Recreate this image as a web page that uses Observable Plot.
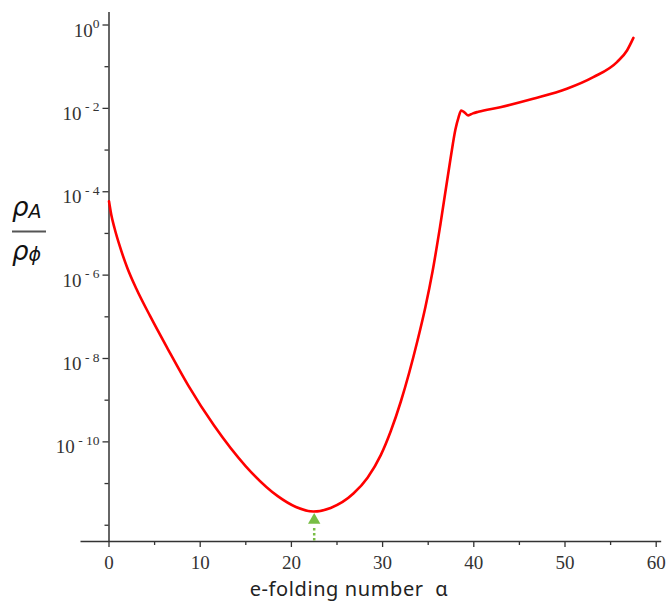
<!DOCTYPE html>
<html>
<head>
<meta charset="utf-8">
<script src="https://cdn.jsdelivr.net/npm/d3@7"></script>
<script src="https://cdn.jsdelivr.net/npm/@observablehq/plot@0.6"></script>
<style>
  html, body { margin: 0; padding: 0; background: white; }
  #chart svg { display: block; }
</style>
</head>
<body>
<div id="chart"></div>
<script>
// e-folding number (x) and energy-density ratio rho_A / rho_phi (y)
const alpha = [0.0, 0.25, 0.6, 1.2, 2.0, 3.0, 4.5, 6.5, 8.7, 11.5, 15.0, 18.5, 20.5, 22.4, 24.3, 26.8, 28.35, 29.8, 30.9, 32.0, 33.83, 34.7, 35.47, 36.35, 37.45, 37.99, 38.32, 38.62, 39.0, 39.4, 39.9, 40.5, 42.9, 46.5, 50.2, 53.1, 55.7, 56.8, 57.5];
const ratio = [5.9e-5, 2.8e-5, 1.35e-5, 4.8e-6, 1.51e-6, 4.7e-7, 1.05e-7, 1.62e-8, 2.24e-9, 2.5e-10, 2.6e-11, 5.0e-12, 2.75e-12, 2.14e-12, 2.6e-12, 5.75e-12, 1.38e-11, 4.8e-11, 1.82e-10, 9.3e-10, 2.7e-8, 1.74e-7, 1.2e-6, 1.7e-5, 6.3e-4, 3.16e-3, 6.0e-3, 8.9e-3, 7.9e-3, 6.8e-3, 7.6e-3, 8.3e-3, 1.07e-2, 1.7e-2, 2.95e-2, 5.6e-2, 0.129, 0.245, 0.49];

// axis ticks
const xMajorTicks = [0, 10, 20, 30, 40, 50, 60];
const xMinorTicks = [5, 15, 25, 35, 45, 55];
const yMajorTicks = [1, 1e-2, 1e-4, 1e-6, 1e-8, 1e-10];
const yMinorTicks = [1e-1, 1e-3, 1e-5, 1e-7, 1e-9, 1e-11, 1e-12];

// annotation: green arrow under the minimum
const arrowAlpha = [22.5];
const arrowHead = [1.32e-12];
const arrowStemFrom = [4.2e-13];
const arrowStemTo = [8.8e-13];

const xDomain = [0, 60];
const yDomain = [Math.pow(10, -12.39), Math.pow(10, 0.3)];
const xLineExtent = [-3.07, 60.6];

const curveData = alpha.map((a, i) => ({alpha: a, ratio: ratio[i]}));
const arrowData = arrowAlpha.map((a, i) => ({alpha: a, head: arrowHead[i], from: arrowStemFrom[i], to: arrowStemTo[i]}));

const axisColor = "#333";
const green = "#78bd45";

const chart = Plot.plot({
  width: 667,
  height: 601,
  marginLeft: 108.5,
  marginRight: 11.3,
  marginTop: 12,
  marginBottom: 60,
  x: {domain: xDomain},
  y: {type: "log", domain: yDomain},
  style: {fontFamily: "'Liberation Serif', serif", fontSize: "19px", color: axisColor, background: "white"},
  marks: [
    Plot.ruleY([yDomain[0]], {x1: xLineExtent[0], x2: xLineExtent[1], stroke: axisColor, strokeWidth: 1.5}),
    Plot.ruleX([0], {stroke: axisColor, strokeWidth: 1.5}),
    Plot.axisX(xMajorTicks, {tickSize: 6, tickPadding: 8, label: null, tickFormat: d => String(d), strokeWidth: 1.3}),
    Plot.axisX(xMinorTicks, {tickSize: 4, label: null, tickFormat: () => "", strokeWidth: 1.3}),
    Plot.axisY(yMajorTicks, {tickSize: 6, tickPadding: 3.5, label: null, tickFormat: d => String(Math.round(Math.log10(d))), strokeWidth: 1.3}),
    Plot.axisY(yMinorTicks, {tickSize: 4, label: null, tickFormat: () => "", strokeWidth: 1.3}),
    Plot.line(curveData, {x: "alpha", y: "ratio", stroke: "#ff0000", strokeWidth: 2.6, curve: "monotone-x"}),
    Plot.ruleX(arrowData, {x: "alpha", y1: "from", y2: "to", stroke: green, strokeWidth: 2.5, strokeDasharray: "2.5,2.5"}),
    Plot.dot(arrowData, {x: "alpha", y: "head", symbol: "triangle", r: 4.6, fill: green, stroke: "none"})
  ]
});

document.getElementById("chart").appendChild(chart);

const svg = d3.select(chart);

// superscript formatting of y tick labels: 10^n
svg.selectAll('g[aria-label="y-axis tick label"] text').each(function() {
  const t = d3.select(this);
  const txt = t.text().trim();
  if (txt === "") return;
  const n = parseInt(txt.replace("−", "-"), 10);
  const expText = n === 0 ? "0" : " - " + Math.abs(n);
  t.text(null);
  t.append("tspan").attr("dy", 5.5).text("10");
  t.append("tspan").attr("dy", -8.5).attr("font-size", 13.5).text(expText);
});

// y-axis label: fraction rho_A / rho_phi
const ylab = svg.append("g")
  .attr("font-family", "'DejaVu Sans', sans-serif")
  .attr("font-style", "italic")
  .attr("text-anchor", "start")
  .attr("fill", "#111");
const num = ylab.append("text").attr("x", 12).attr("y", 216).attr("font-size", 26);
num.append("tspan").text("ρ");
num.append("tspan").attr("dy", 2).attr("font-size", 19).text("A");
ylab.append("line").attr("x1", 12).attr("x2", 46).attr("y1", 231.5).attr("y2", 231.5).attr("stroke", "#555").attr("stroke-width", 2);
const den = ylab.append("text").attr("x", 12).attr("y", 260).attr("font-size", 26);
den.append("tspan").text("ρ");
den.append("tspan").attr("dy", 1).attr("font-size", 19).text("ϕ");

// x-axis title
svg.append("text")
  .attr("x", 349).attr("y", 596)
  .attr("text-anchor", "middle")
  .attr("font-family", "'Noto Sans', 'Open Sans', sans-serif")
  .attr("font-size", 20)
  .attr("letter-spacing", 0.6)
  .attr("fill", "#222")
  .text("e-folding number  α");
</script>
</body>
</html>
